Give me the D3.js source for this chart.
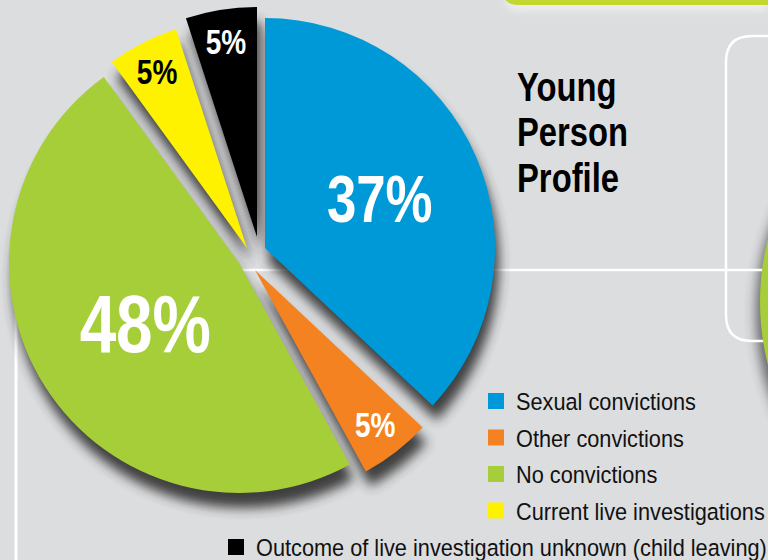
<!DOCTYPE html>
<html>
<head>
<meta charset="utf-8">
<script src="https://cdn.jsdelivr.net/npm/d3@7"></script>
<style>
  body { margin: 0; background: #dcdddf; }
  svg { display: block; }
  text { font-family: "Liberation Sans", Arial, sans-serif; }
</style>
</head>
<body>
<div id="chart"></div>
<script>
"use strict"

// data
const categories = ["Sexual convictions", "Other convictions", "No convictions",
  "Current live investigations", "Outcome of live investigation unknown (child leaving)"];
const values = [37, 5, 48, 5, 5];
const labels = ["37%", "5%", "48%", "5%", "5%"];
const title = ["Young", "Person", "Profile"];

// styles
const colors = ["#0099d8", "#f58220", "#a6ce39", "#fff200", "#000000"];
const labelColors = ["#fff", "#fff", "#fff", "#000", "#fff"];
const labelR = [125, 196, 111, 198, 198];
const offsets = [[14, -9], [4, 13], [-12, 6], [-4, -9], [6, -20]]; // slice pull-out
const narrow = 0.8; // no condensed font installed, squeeze horizontally

const width = 768, height = 560,
  radius = 230,
  cx = 251, cy = 257;

var svg = d3.select("#chart")
.append("svg")
  .attr("width", width)
  .attr("height", height);

// shadow filters
var defs = svg.append("defs");
defs.append("filter").attr("id", "shadow")
  .attr("x", "-20%").attr("y", "-20%").attr("width", "140%").attr("height", "140%")
  .append("feGaussianBlur").attr("stdDeviation", 6);
defs.append("filter").attr("id", "soft")
  .attr("x", "-20%").attr("y", "-50%").attr("width", "140%").attr("height", "300%")
  .append("feGaussianBlur").attr("stdDeviation", 4);

// background decorations
svg.append("rect").attr("width", width).attr("height", height).attr("fill", "#dcdddf");

svg.append("path")
  .attr("d", "M503,0 L768,0 L768,10 L520,10 Q503,10 503,-5 Z")
  .attr("fill", "#ffffff").attr("opacity", 0.6).attr("filter", "url(#soft)");
svg.append("path")
  .attr("d", "M503,0 L768,0 L768,5 L518,5 Q503,5 503,-10 Z")
  .attr("fill", "#c2d82e");

svg.append("circle").attr("cx", 1014).attr("cy", 302).attr("r", 254)
  .attr("fill", "#333").attr("opacity", 0.7).attr("filter", "url(#shadow)")
  .attr("transform", "translate(-4,10)");

svg.append("line").attr("x1", 240).attr("x2", width).attr("y1", 270).attr("y2", 270)
  .attr("stroke", "#fff").attr("stroke-width", 2.5);
svg.append("path")
  .attr("d", "M790,36 L752,36 Q726,36 726,62 L726,315 Q726,341 752,341 L790,341")
  .attr("fill", "none").attr("stroke", "#fff").attr("stroke-width", 2.5);
svg.append("line").attr("x1", 16).attr("x2", 16).attr("y1", 300).attr("y2", height)
  .attr("stroke", "#fff").attr("stroke-width", 3);

svg.append("circle").attr("cx", 1014).attr("cy", 302).attr("r", 254)
  .attr("fill", "#a6ce39");

// pie
var pie = d3.pie().sort(null).value(function(d) { return d; });
var arcs = pie(values);
var arc = d3.arc().innerRadius(0).outerRadius(radius);

function shift(i) {
  return [cx + offsets[i][0], cy + offsets[i][1]];
}

var g = svg.append("g");

// shadows first
g.selectAll(".shadow")
  .data(arcs)
  .enter()
  .append("path")
    .attr("class", "shadow")
    .attr("d", arc)
    .attr("fill", "#333")
    .attr("opacity", 0.92)
    .attr("filter", "url(#shadow)")
    .attr("transform", function(d, i) { var p = shift(i); return "translate(" + (p[0] + 4) + "," + (p[1] + 15) + ")"; });

g.selectAll(".slice")
  .data(arcs)
  .enter()
  .append("path")
    .attr("class", "slice")
    .attr("d", arc)
    .attr("fill", function(d, i) { return colors[i]; })
    .attr("transform", function(d, i) { var p = shift(i); return "translate(" + p[0] + "," + p[1] + ")"; });

// percentage labels
g.selectAll(".lbl")
  .data(arcs)
  .enter()
  .append("text")
    .attr("class", "lbl")
    .attr("transform", function(d, i) {
      var p = shift(i);
      var c = d3.arc().innerRadius(labelR[i]).outerRadius(labelR[i]).centroid(d);
      return "translate(" + (p[0] + c[0]) + "," + (p[1] + c[1]) + ") scale(" + narrow + ",1)";
    })
    .attr("text-anchor", "middle")
    .attr("dy", "0.36em")
    .style("font-weight", "bold")
    .style("font-size", function(d, i) { return i == 0 ? "66px" : i == 2 ? "82px" : "35px"; })
    .style("fill", function(d, i) { return labelColors[i]; })
    .text(function(d, i) { return labels[i]; });

// title
svg.append("g")
  .attr("transform", "translate(517,101) scale(0.82,1)")
.append("text")
  .style("font-weight", "bold")
  .style("font-size", "40px")
  .selectAll("tspan")
  .data(title)
  .enter()
  .append("tspan")
    .attr("x", 0)
    .attr("dy", function(d, i) { return i == 0 ? 0 : 45.5; })
    .text(function(d) { return d; });

// legend
var yL = d3.scalePoint().domain(categories).range([401, 547]);
var legend = svg.selectAll(".legend")
  .data(categories)
  .enter()
  .append("g")
    .attr("class", "legend")
    .attr("transform", function(d, i) { return "translate(" + (i < 4 ? 488 : 228) + "," + yL(d) + ")"; });
legend.append("rect")
  .attr("x", 0).attr("y", -8)
  .attr("width", 16).attr("height", 16)
  .attr("fill", function(d, i) { return colors[i]; });
legend.append("text")
  .attr("transform", "translate(28,9) scale(0.925,1)")
  .style("font-size", "23.5px")
  .style("fill", "#111")
  .text(function(d) { return d; });
</script>
</body>
</html>
